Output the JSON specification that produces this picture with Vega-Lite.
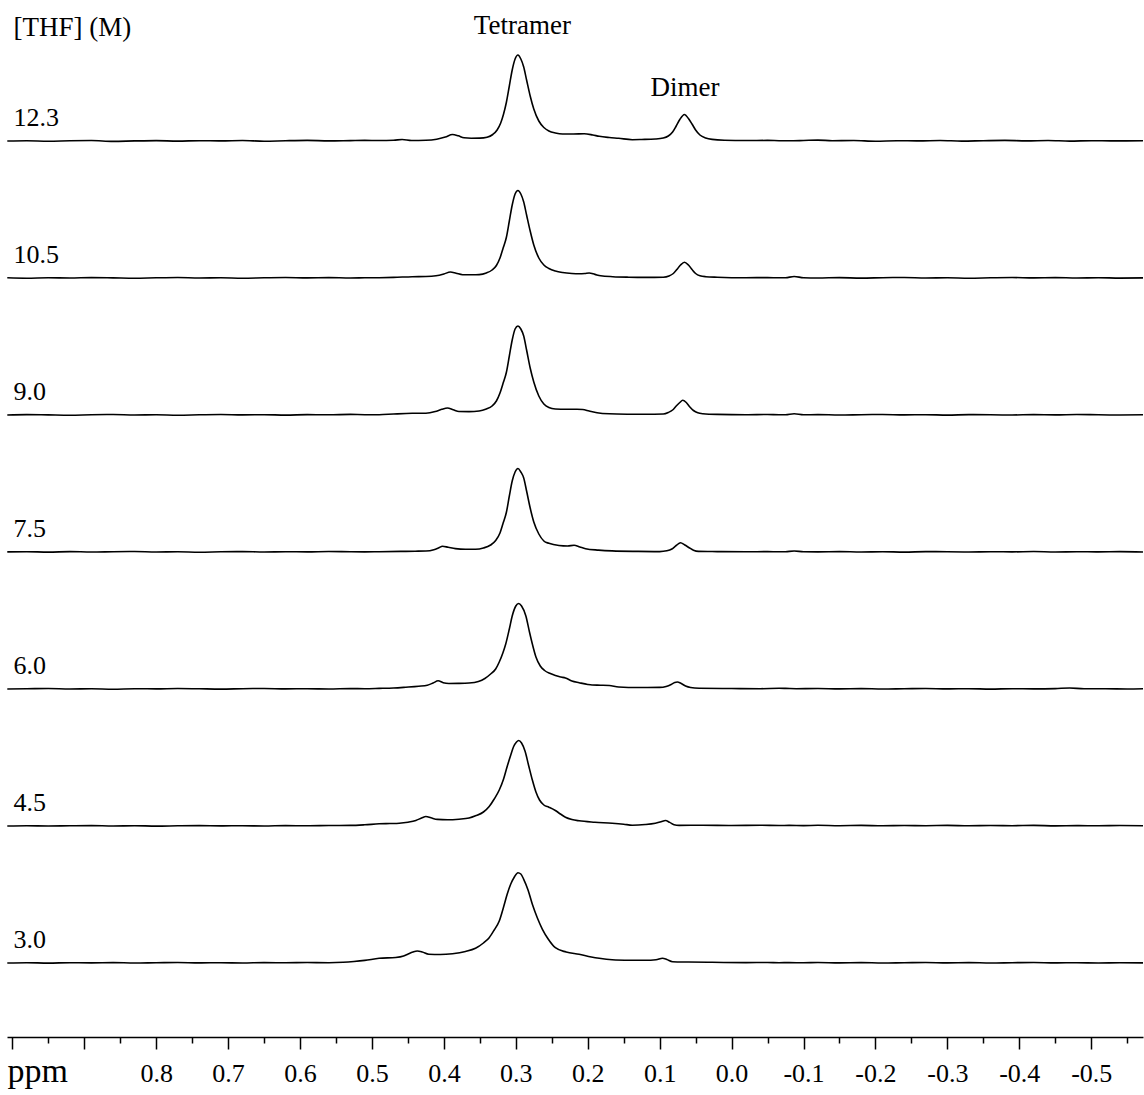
{
  "$schema": "https://vega.github.io/schema/vega-lite/v6.json",
  "background": "white",
  "padding": {"left": 4, "right": 0, "top": 12, "bottom": 5},
  "bounds": "flush",
  "datasets": {
    "spectra": [
      {"thf":"12.3","ppm":1.007,"i":0},{"thf":"12.3","ppm":0.98,"i":0.3},{"thf":"12.3","ppm":0.95,"i":-0.2},{"thf":"12.3","ppm":0.92,"i":0.3},{"thf":"12.3","ppm":0.89,"i":0.5},{"thf":"12.3","ppm":0.86,"i":-0.4},{"thf":"12.3","ppm":0.83,"i":0.1},{"thf":"12.3","ppm":0.8,"i":0.4},{"thf":"12.3","ppm":0.77,"i":-0.1},{"thf":"12.3","ppm":0.74,"i":0.3},{"thf":"12.3","ppm":0.71,"i":0.1},{"thf":"12.3","ppm":0.68,"i":0.5},{"thf":"12.3","ppm":0.65,"i":-0.2},{"thf":"12.3","ppm":0.62,"i":0.3},{"thf":"12.3","ppm":0.59,"i":0.6},{"thf":"12.3","ppm":0.56,"i":0.1},{"thf":"12.3","ppm":0.53,"i":0.4},{"thf":"12.3","ppm":0.51,"i":0.6},
      {"thf":"12.3","ppm":0.49,"i":0.5},{"thf":"12.3","ppm":0.47,"i":0.7},{"thf":"12.3","ppm":0.458,"i":1.5},{"thf":"12.3","ppm":0.445,"i":0.5},{"thf":"12.3","ppm":0.425,"i":0.7},{"thf":"12.3","ppm":0.41,"i":1.8},{"thf":"12.3","ppm":0.398,"i":4},{"thf":"12.3","ppm":0.388,"i":6.5},{"thf":"12.3","ppm":0.38,"i":5.2},{"thf":"12.3","ppm":0.372,"i":3.2},{"thf":"12.3","ppm":0.362,"i":2.8},{"thf":"12.3","ppm":0.35,"i":2.9},{"thf":"12.3","ppm":0.34,"i":3.8},{"thf":"12.3","ppm":0.332,"i":6.5},{"thf":"12.3","ppm":0.326,"i":11},{"thf":"12.3","ppm":0.321,"i":18},{"thf":"12.3","ppm":0.317,"i":27},{"thf":"12.3","ppm":0.313,"i":39},{"thf":"12.3","ppm":0.309,"i":55},{"thf":"12.3","ppm":0.305,"i":71},{"thf":"12.3","ppm":0.301,"i":82},{"thf":"12.3","ppm":0.297,"i":86},{"thf":"12.3","ppm":0.293,"i":82},{"thf":"12.3","ppm":0.289,"i":74},{"thf":"12.3","ppm":0.285,"i":61},{"thf":"12.3","ppm":0.28,"i":45},{"thf":"12.3","ppm":0.275,"i":32},{"thf":"12.3","ppm":0.268,"i":20},{"thf":"12.3","ppm":0.261,"i":13.5},{"thf":"12.3","ppm":0.254,"i":10},{"thf":"12.3","ppm":0.245,"i":8},{"thf":"12.3","ppm":0.235,"i":7},{"thf":"12.3","ppm":0.22,"i":7},{"thf":"12.3","ppm":0.205,"i":7.2},{"thf":"12.3","ppm":0.193,"i":6},{"thf":"12.3","ppm":0.184,"i":4.7},{"thf":"12.3","ppm":0.17,"i":3.5},{"thf":"12.3","ppm":0.157,"i":2.7},{"thf":"12.3","ppm":0.138,"i":1.3},{"thf":"12.3","ppm":0.125,"i":1.5},{"thf":"12.3","ppm":0.106,"i":2},{"thf":"12.3","ppm":0.095,"i":3},{"thf":"12.3","ppm":0.088,"i":5},{"thf":"12.3","ppm":0.082,"i":9},{"thf":"12.3","ppm":0.077,"i":15},{"thf":"12.3","ppm":0.072,"i":21.5},{"thf":"12.3","ppm":0.0655,"i":26.5},{"thf":"12.3","ppm":0.06,"i":22.5},{"thf":"12.3","ppm":0.055,"i":17},{"thf":"12.3","ppm":0.05,"i":11},{"thf":"12.3","ppm":0.044,"i":6},{"thf":"12.3","ppm":0.036,"i":3},{"thf":"12.3","ppm":0.027,"i":1.6},{"thf":"12.3","ppm":0.01,"i":0.8},{"thf":"12.3","ppm":-0.02,"i":0.5},{"thf":"12.3","ppm":-0.05,"i":0.6},{"thf":"12.3","ppm":-0.066,"i":0.3},
      {"thf":"12.3","ppm":-0.08,"i":0.2},{"thf":"12.3","ppm":-0.1,"i":0.5},{"thf":"12.3","ppm":-0.12,"i":0.9},{"thf":"12.3","ppm":-0.14,"i":0.3},{"thf":"12.3","ppm":-0.17,"i":0.5},{"thf":"12.3","ppm":-0.2,"i":-0.2},{"thf":"12.3","ppm":-0.23,"i":0.3},{"thf":"12.3","ppm":-0.26,"i":0.1},{"thf":"12.3","ppm":-0.29,"i":0.5},{"thf":"12.3","ppm":-0.32,"i":-0.1},{"thf":"12.3","ppm":-0.35,"i":0.3},{"thf":"12.3","ppm":-0.38,"i":0.6},{"thf":"12.3","ppm":-0.41,"i":0.1},{"thf":"12.3","ppm":-0.44,"i":0.5},{"thf":"12.3","ppm":-0.47,"i":-0.1},{"thf":"12.3","ppm":-0.5,"i":0.3},{"thf":"12.3","ppm":-0.53,"i":0.1},{"thf":"12.3","ppm":-0.572,"i":0.2},

      {"thf":"10.5","ppm":1.007,"i":0.2},{"thf":"10.5","ppm":0.98,"i":-0.2},{"thf":"10.5","ppm":0.95,"i":0.3},{"thf":"10.5","ppm":0.92,"i":0},{"thf":"10.5","ppm":0.89,"i":0.4},{"thf":"10.5","ppm":0.86,"i":0.1},{"thf":"10.5","ppm":0.83,"i":-0.3},{"thf":"10.5","ppm":0.8,"i":0.2},{"thf":"10.5","ppm":0.77,"i":0.5},{"thf":"10.5","ppm":0.74,"i":0},{"thf":"10.5","ppm":0.71,"i":0.3},{"thf":"10.5","ppm":0.68,"i":-0.2},{"thf":"10.5","ppm":0.65,"i":0.2},{"thf":"10.5","ppm":0.62,"i":0.5},{"thf":"10.5","ppm":0.59,"i":0.1},{"thf":"10.5","ppm":0.56,"i":0.4},{"thf":"10.5","ppm":0.53,"i":0},{"thf":"10.5","ppm":0.51,"i":0.2},
      {"thf":"10.5","ppm":0.49,"i":0.3},{"thf":"10.5","ppm":0.47,"i":0.6},{"thf":"10.5","ppm":0.444,"i":1.3},{"thf":"10.5","ppm":0.425,"i":1.5},{"thf":"10.5","ppm":0.411,"i":2.2},{"thf":"10.5","ppm":0.4,"i":4},{"thf":"10.5","ppm":0.391,"i":6},{"thf":"10.5","ppm":0.383,"i":4.8},{"thf":"10.5","ppm":0.374,"i":3.3},{"thf":"10.5","ppm":0.36,"i":3.2},{"thf":"10.5","ppm":0.351,"i":3.4},{"thf":"10.5","ppm":0.341,"i":5},{"thf":"10.5","ppm":0.333,"i":8},{"thf":"10.5","ppm":0.327,"i":12.5},{"thf":"10.5","ppm":0.322,"i":20},{"thf":"10.5","ppm":0.318,"i":29},{"thf":"10.5","ppm":0.313,"i":41},{"thf":"10.5","ppm":0.309,"i":57},{"thf":"10.5","ppm":0.305,"i":73},{"thf":"10.5","ppm":0.301,"i":84},{"thf":"10.5","ppm":0.297,"i":87.5},{"thf":"10.5","ppm":0.293,"i":84},{"thf":"10.5","ppm":0.289,"i":76},{"thf":"10.5","ppm":0.285,"i":63},{"thf":"10.5","ppm":0.28,"i":47},{"thf":"10.5","ppm":0.275,"i":33},{"thf":"10.5","ppm":0.268,"i":20},{"thf":"10.5","ppm":0.261,"i":13},{"thf":"10.5","ppm":0.254,"i":9.5},{"thf":"10.5","ppm":0.245,"i":7},{"thf":"10.5","ppm":0.235,"i":5.5},{"thf":"10.5","ppm":0.222,"i":4.5},{"thf":"10.5","ppm":0.212,"i":4.2},{"thf":"10.5","ppm":0.204,"i":4.5},{"thf":"10.5","ppm":0.198,"i":5},{"thf":"10.5","ppm":0.19,"i":3.6},{"thf":"10.5","ppm":0.182,"i":2.2},{"thf":"10.5","ppm":0.165,"i":1.3},{"thf":"10.5","ppm":0.143,"i":0.8},{"thf":"10.5","ppm":0.12,"i":0.6},{"thf":"10.5","ppm":0.095,"i":0.8},{"thf":"10.5","ppm":0.087,"i":2},{"thf":"10.5","ppm":0.081,"i":4.5},{"thf":"10.5","ppm":0.076,"i":8.5},{"thf":"10.5","ppm":0.071,"i":13},{"thf":"10.5","ppm":0.0655,"i":15.8},{"thf":"10.5","ppm":0.06,"i":13},{"thf":"10.5","ppm":0.055,"i":8.5},{"thf":"10.5","ppm":0.05,"i":4.5},{"thf":"10.5","ppm":0.044,"i":2.2},{"thf":"10.5","ppm":0.036,"i":1.3},{"thf":"10.5","ppm":0.02,"i":0.8},{"thf":"10.5","ppm":-0.02,"i":0.3},{"thf":"10.5","ppm":-0.05,"i":0.4},{"thf":"10.5","ppm":-0.066,"i":0.2},
      {"thf":"10.5","ppm":-0.075,"i":0.3},{"thf":"10.5","ppm":-0.087,"i":1.5},{"thf":"10.5","ppm":-0.1,"i":0.3},{"thf":"10.5","ppm":-0.12,"i":0},{"thf":"10.5","ppm":-0.15,"i":0.4},{"thf":"10.5","ppm":-0.18,"i":-0.1},{"thf":"10.5","ppm":-0.21,"i":0.3},{"thf":"10.5","ppm":-0.24,"i":0.5},{"thf":"10.5","ppm":-0.27,"i":0},{"thf":"10.5","ppm":-0.3,"i":0.3},{"thf":"10.5","ppm":-0.33,"i":-0.2},{"thf":"10.5","ppm":-0.36,"i":0.2},{"thf":"10.5","ppm":-0.39,"i":0.5},{"thf":"10.5","ppm":-0.42,"i":0.1},{"thf":"10.5","ppm":-0.45,"i":0.4},{"thf":"10.5","ppm":-0.48,"i":0},{"thf":"10.5","ppm":-0.51,"i":0.3},{"thf":"10.5","ppm":-0.54,"i":-0.1},{"thf":"10.5","ppm":-0.572,"i":0.1},

      {"thf":"9.0","ppm":1.007,"i":0},{"thf":"9.0","ppm":0.98,"i":0.4},{"thf":"9.0","ppm":0.95,"i":0.1},{"thf":"9.0","ppm":0.92,"i":-0.2},{"thf":"9.0","ppm":0.89,"i":0.3},{"thf":"9.0","ppm":0.86,"i":0.5},{"thf":"9.0","ppm":0.83,"i":0},{"thf":"9.0","ppm":0.8,"i":0.3},{"thf":"9.0","ppm":0.77,"i":-0.2},{"thf":"9.0","ppm":0.74,"i":0.2},{"thf":"9.0","ppm":0.71,"i":0.5},{"thf":"9.0","ppm":0.68,"i":0.1},{"thf":"9.0","ppm":0.65,"i":0.3},{"thf":"9.0","ppm":0.62,"i":-0.1},{"thf":"9.0","ppm":0.59,"i":0.4},{"thf":"9.0","ppm":0.56,"i":0.2},{"thf":"9.0","ppm":0.53,"i":0.6},{"thf":"9.0","ppm":0.51,"i":0.3},
      {"thf":"9.0","ppm":0.49,"i":0.3},{"thf":"9.0","ppm":0.47,"i":1},{"thf":"9.0","ppm":0.444,"i":1.7},{"thf":"9.0","ppm":0.425,"i":1.8},{"thf":"9.0","ppm":0.412,"i":3.5},{"thf":"9.0","ppm":0.403,"i":5.7},{"thf":"9.0","ppm":0.395,"i":7},{"thf":"9.0","ppm":0.387,"i":5.2},{"thf":"9.0","ppm":0.379,"i":3.5},{"thf":"9.0","ppm":0.365,"i":3.4},{"thf":"9.0","ppm":0.351,"i":4},{"thf":"9.0","ppm":0.341,"i":6},{"thf":"9.0","ppm":0.333,"i":9},{"thf":"9.0","ppm":0.327,"i":14},{"thf":"9.0","ppm":0.322,"i":22},{"thf":"9.0","ppm":0.318,"i":31},{"thf":"9.0","ppm":0.313,"i":43},{"thf":"9.0","ppm":0.309,"i":59},{"thf":"9.0","ppm":0.305,"i":75},{"thf":"9.0","ppm":0.301,"i":86},{"thf":"9.0","ppm":0.297,"i":89},{"thf":"9.0","ppm":0.293,"i":86},{"thf":"9.0","ppm":0.289,"i":79},{"thf":"9.0","ppm":0.285,"i":65},{"thf":"9.0","ppm":0.28,"i":47},{"thf":"9.0","ppm":0.275,"i":33},{"thf":"9.0","ppm":0.268,"i":19},{"thf":"9.0","ppm":0.261,"i":11},{"thf":"9.0","ppm":0.254,"i":7.5},{"thf":"9.0","ppm":0.245,"i":6},{"thf":"9.0","ppm":0.23,"i":5.7},{"thf":"9.0","ppm":0.215,"i":5.7},{"thf":"9.0","ppm":0.207,"i":5.5},{"thf":"9.0","ppm":0.198,"i":4},{"thf":"9.0","ppm":0.187,"i":2.3},{"thf":"9.0","ppm":0.17,"i":1.2},{"thf":"9.0","ppm":0.145,"i":0.8},{"thf":"9.0","ppm":0.12,"i":0.7},{"thf":"9.0","ppm":0.095,"i":1},{"thf":"9.0","ppm":0.088,"i":2.5},{"thf":"9.0","ppm":0.082,"i":5},{"thf":"9.0","ppm":0.077,"i":9},{"thf":"9.0","ppm":0.072,"i":12.5},{"thf":"9.0","ppm":0.068,"i":14.7},{"thf":"9.0","ppm":0.063,"i":12.5},{"thf":"9.0","ppm":0.058,"i":8},{"thf":"9.0","ppm":0.053,"i":4.5},{"thf":"9.0","ppm":0.047,"i":2.2},{"thf":"9.0","ppm":0.04,"i":1.3},{"thf":"9.0","ppm":0.02,"i":0.6},{"thf":"9.0","ppm":-0.02,"i":0.3},{"thf":"9.0","ppm":-0.05,"i":0.5},{"thf":"9.0","ppm":-0.066,"i":0.2},
      {"thf":"9.0","ppm":-0.075,"i":0.2},{"thf":"9.0","ppm":-0.087,"i":1.2},{"thf":"9.0","ppm":-0.1,"i":0.2},{"thf":"9.0","ppm":-0.12,"i":0.4},{"thf":"9.0","ppm":-0.15,"i":0},{"thf":"9.0","ppm":-0.18,"i":0.3},{"thf":"9.0","ppm":-0.21,"i":0.5},{"thf":"9.0","ppm":-0.24,"i":0.1},{"thf":"9.0","ppm":-0.27,"i":0.3},{"thf":"9.0","ppm":-0.3,"i":-0.1},{"thf":"9.0","ppm":-0.33,"i":0.4},{"thf":"9.0","ppm":-0.36,"i":0.2},{"thf":"9.0","ppm":-0.39,"i":0},{"thf":"9.0","ppm":-0.42,"i":0.4},{"thf":"9.0","ppm":-0.45,"i":0.1},{"thf":"9.0","ppm":-0.48,"i":0.5},{"thf":"9.0","ppm":-0.51,"i":0.2},{"thf":"9.0","ppm":-0.54,"i":0},{"thf":"9.0","ppm":-0.572,"i":0.2},

      {"thf":"7.5","ppm":1.007,"i":0.1},{"thf":"7.5","ppm":0.98,"i":0.3},{"thf":"7.5","ppm":0.95,"i":-0.1},{"thf":"7.5","ppm":0.92,"i":0.4},{"thf":"7.5","ppm":0.89,"i":0},{"thf":"7.5","ppm":0.86,"i":0.3},{"thf":"7.5","ppm":0.83,"i":0.5},{"thf":"7.5","ppm":0.8,"i":0},{"thf":"7.5","ppm":0.77,"i":0.3},{"thf":"7.5","ppm":0.74,"i":-0.2},{"thf":"7.5","ppm":0.71,"i":0.2},{"thf":"7.5","ppm":0.68,"i":0.4},{"thf":"7.5","ppm":0.65,"i":0},{"thf":"7.5","ppm":0.62,"i":0.3},{"thf":"7.5","ppm":0.59,"i":0.1},{"thf":"7.5","ppm":0.56,"i":0.5},{"thf":"7.5","ppm":0.53,"i":0.2},{"thf":"7.5","ppm":0.51,"i":0.1},
      {"thf":"7.5","ppm":0.49,"i":0.3},{"thf":"7.5","ppm":0.46,"i":0.6},{"thf":"7.5","ppm":0.44,"i":0.8},{"thf":"7.5","ppm":0.425,"i":1},{"thf":"7.5","ppm":0.414,"i":2.3},{"thf":"7.5","ppm":0.407,"i":4.2},{"thf":"7.5","ppm":0.402,"i":5.7},{"thf":"7.5","ppm":0.394,"i":4.7},{"thf":"7.5","ppm":0.384,"i":3.4},{"thf":"7.5","ppm":0.37,"i":2.8},{"thf":"7.5","ppm":0.356,"i":2.8},{"thf":"7.5","ppm":0.345,"i":4},{"thf":"7.5","ppm":0.335,"i":7},{"thf":"7.5","ppm":0.328,"i":11.5},{"thf":"7.5","ppm":0.322,"i":19},{"thf":"7.5","ppm":0.318,"i":28},{"thf":"7.5","ppm":0.313,"i":40},{"thf":"7.5","ppm":0.309,"i":56},{"thf":"7.5","ppm":0.305,"i":71},{"thf":"7.5","ppm":0.301,"i":80},{"thf":"7.5","ppm":0.297,"i":83.5},{"thf":"7.5","ppm":0.293,"i":80},{"thf":"7.5","ppm":0.289,"i":74},{"thf":"7.5","ppm":0.285,"i":61},{"thf":"7.5","ppm":0.28,"i":44},{"thf":"7.5","ppm":0.275,"i":30},{"thf":"7.5","ppm":0.268,"i":18},{"thf":"7.5","ppm":0.261,"i":11},{"thf":"7.5","ppm":0.254,"i":8.7},{"thf":"7.5","ppm":0.24,"i":6.5},{"thf":"7.5","ppm":0.228,"i":6},{"thf":"7.5","ppm":0.219,"i":6.7},{"thf":"7.5","ppm":0.211,"i":5},{"thf":"7.5","ppm":0.203,"i":3.3},{"thf":"7.5","ppm":0.185,"i":1.9},{"thf":"7.5","ppm":0.166,"i":1.1},{"thf":"7.5","ppm":0.13,"i":0.6},{"thf":"7.5","ppm":0.1,"i":0.4},{"thf":"7.5","ppm":0.09,"i":1.2},{"thf":"7.5","ppm":0.083,"i":3},{"thf":"7.5","ppm":0.077,"i":6.5},{"thf":"7.5","ppm":0.071,"i":9.3},{"thf":"7.5","ppm":0.065,"i":7},{"thf":"7.5","ppm":0.059,"i":4.3},{"thf":"7.5","ppm":0.053,"i":1.8},{"thf":"7.5","ppm":0.046,"i":0.6},{"thf":"7.5","ppm":0.02,"i":0.4},{"thf":"7.5","ppm":-0.02,"i":0.2},{"thf":"7.5","ppm":-0.05,"i":0.4},{"thf":"7.5","ppm":-0.066,"i":0.2},
      {"thf":"7.5","ppm":-0.075,"i":0.3},{"thf":"7.5","ppm":-0.087,"i":1},{"thf":"7.5","ppm":-0.1,"i":0.2},{"thf":"7.5","ppm":-0.12,"i":0.1},{"thf":"7.5","ppm":-0.15,"i":0.4},{"thf":"7.5","ppm":-0.18,"i":0},{"thf":"7.5","ppm":-0.21,"i":0.3},{"thf":"7.5","ppm":-0.24,"i":-0.1},{"thf":"7.5","ppm":-0.27,"i":0.4},{"thf":"7.5","ppm":-0.3,"i":0.2},{"thf":"7.5","ppm":-0.33,"i":0},{"thf":"7.5","ppm":-0.36,"i":0.3},{"thf":"7.5","ppm":-0.39,"i":0.1},{"thf":"7.5","ppm":-0.42,"i":0.5},{"thf":"7.5","ppm":-0.45,"i":0},{"thf":"7.5","ppm":-0.48,"i":0.3},{"thf":"7.5","ppm":-0.51,"i":0.1},{"thf":"7.5","ppm":-0.54,"i":0.4},{"thf":"7.5","ppm":-0.572,"i":0},

      {"thf":"6.0","ppm":1.007,"i":0},{"thf":"6.0","ppm":0.98,"i":0.2},{"thf":"6.0","ppm":0.95,"i":0.5},{"thf":"6.0","ppm":0.92,"i":0},{"thf":"6.0","ppm":0.89,"i":0.3},{"thf":"6.0","ppm":0.86,"i":-0.2},{"thf":"6.0","ppm":0.83,"i":0.3},{"thf":"6.0","ppm":0.8,"i":0.1},{"thf":"6.0","ppm":0.77,"i":0.5},{"thf":"6.0","ppm":0.74,"i":0.2},{"thf":"6.0","ppm":0.71,"i":-0.1},{"thf":"6.0","ppm":0.68,"i":0.3},{"thf":"6.0","ppm":0.65,"i":0.5},{"thf":"6.0","ppm":0.62,"i":0.1},{"thf":"6.0","ppm":0.59,"i":0.3},{"thf":"6.0","ppm":0.56,"i":0},{"thf":"6.0","ppm":0.53,"i":0.4},{"thf":"6.0","ppm":0.51,"i":0.3},
      {"thf":"6.0","ppm":0.49,"i":0.6},{"thf":"6.0","ppm":0.47,"i":1},{"thf":"6.0","ppm":0.453,"i":1.8},{"thf":"6.0","ppm":0.435,"i":2.8},{"thf":"6.0","ppm":0.423,"i":3.8},{"thf":"6.0","ppm":0.415,"i":6},{"thf":"6.0","ppm":0.408,"i":8.2},{"thf":"6.0","ppm":0.401,"i":6.3},{"thf":"6.0","ppm":0.393,"i":5.5},{"thf":"6.0","ppm":0.38,"i":5.6},{"thf":"6.0","ppm":0.365,"i":6},{"thf":"6.0","ppm":0.352,"i":7.5},{"thf":"6.0","ppm":0.343,"i":10.5},{"thf":"6.0","ppm":0.335,"i":15},{"thf":"6.0","ppm":0.328,"i":20},{"thf":"6.0","ppm":0.323,"i":27},{"thf":"6.0","ppm":0.318,"i":36},{"thf":"6.0","ppm":0.314,"i":45},{"thf":"6.0","ppm":0.309,"i":60},{"thf":"6.0","ppm":0.305,"i":73},{"thf":"6.0","ppm":0.3,"i":83},{"thf":"6.0","ppm":0.296,"i":85.5},{"thf":"6.0","ppm":0.292,"i":83},{"thf":"6.0","ppm":0.286,"i":73},{"thf":"6.0","ppm":0.281,"i":57},{"thf":"6.0","ppm":0.277,"i":45},{"thf":"6.0","ppm":0.272,"i":32},{"thf":"6.0","ppm":0.266,"i":23},{"thf":"6.0","ppm":0.26,"i":18.5},{"thf":"6.0","ppm":0.252,"i":15.5},{"thf":"6.0","ppm":0.245,"i":13.5},{"thf":"6.0","ppm":0.237,"i":12},{"thf":"6.0","ppm":0.231,"i":11},{"thf":"6.0","ppm":0.222,"i":8},{"thf":"6.0","ppm":0.212,"i":6.3},{"thf":"6.0","ppm":0.2,"i":4.5},{"thf":"6.0","ppm":0.194,"i":4},{"thf":"6.0","ppm":0.182,"i":3.8},{"thf":"6.0","ppm":0.17,"i":3.5},{"thf":"6.0","ppm":0.157,"i":2},{"thf":"6.0","ppm":0.13,"i":1.5},{"thf":"6.0","ppm":0.1,"i":1.6},{"thf":"6.0","ppm":0.091,"i":2.5},{"thf":"6.0","ppm":0.084,"i":4.5},{"thf":"6.0","ppm":0.079,"i":6.5},{"thf":"6.0","ppm":0.0755,"i":7},{"thf":"6.0","ppm":0.07,"i":5.5},{"thf":"6.0","ppm":0.064,"i":3},{"thf":"6.0","ppm":0.057,"i":1.5},{"thf":"6.0","ppm":0.045,"i":0.8},{"thf":"6.0","ppm":0,"i":0.5},{"thf":"6.0","ppm":-0.04,"i":0.3},{"thf":"6.0","ppm":-0.066,"i":0.7},
      {"thf":"6.0","ppm":-0.075,"i":0.6},{"thf":"6.0","ppm":-0.09,"i":0.3},{"thf":"6.0","ppm":-0.12,"i":0.5},{"thf":"6.0","ppm":-0.15,"i":0.1},{"thf":"6.0","ppm":-0.18,"i":0.4},{"thf":"6.0","ppm":-0.21,"i":0},{"thf":"6.0","ppm":-0.24,"i":0.3},{"thf":"6.0","ppm":-0.27,"i":0.5},{"thf":"6.0","ppm":-0.3,"i":0.1},{"thf":"6.0","ppm":-0.33,"i":0.3},{"thf":"6.0","ppm":-0.36,"i":-0.1},{"thf":"6.0","ppm":-0.39,"i":0.3},{"thf":"6.0","ppm":-0.42,"i":0.1},{"thf":"6.0","ppm":-0.45,"i":0.4},{"thf":"6.0","ppm":-0.47,"i":1},{"thf":"6.0","ppm":-0.49,"i":0.2},{"thf":"6.0","ppm":-0.52,"i":0.3},{"thf":"6.0","ppm":-0.55,"i":0},{"thf":"6.0","ppm":-0.572,"i":0.2},

      {"thf":"4.5","ppm":1.007,"i":0},{"thf":"4.5","ppm":0.98,"i":0.3},{"thf":"4.5","ppm":0.95,"i":0},{"thf":"4.5","ppm":0.92,"i":0.2},{"thf":"4.5","ppm":0.89,"i":0.4},{"thf":"4.5","ppm":0.86,"i":0},{"thf":"4.5","ppm":0.83,"i":0.3},{"thf":"4.5","ppm":0.8,"i":-0.1},{"thf":"4.5","ppm":0.77,"i":0.2},{"thf":"4.5","ppm":0.74,"i":0.4},{"thf":"4.5","ppm":0.71,"i":0.1},{"thf":"4.5","ppm":0.68,"i":0.3},{"thf":"4.5","ppm":0.65,"i":0},{"thf":"4.5","ppm":0.62,"i":0.4},{"thf":"4.5","ppm":0.59,"i":0.2},{"thf":"4.5","ppm":0.56,"i":0.5},{"thf":"4.5","ppm":0.53,"i":0.6},{"thf":"4.5","ppm":0.51,"i":1.2},
      {"thf":"4.5","ppm":0.49,"i":2.2},{"thf":"4.5","ppm":0.475,"i":2.5},{"thf":"4.5","ppm":0.462,"i":2.8},{"thf":"4.5","ppm":0.45,"i":3.8},{"thf":"4.5","ppm":0.439,"i":5.5},{"thf":"4.5","ppm":0.431,"i":8},{"thf":"4.5","ppm":0.425,"i":9.5},{"thf":"4.5","ppm":0.418,"i":8.2},{"thf":"4.5","ppm":0.409,"i":6.6},{"thf":"4.5","ppm":0.395,"i":6.2},{"thf":"4.5","ppm":0.379,"i":6.8},{"thf":"4.5","ppm":0.365,"i":8},{"thf":"4.5","ppm":0.356,"i":10.2},{"thf":"4.5","ppm":0.345,"i":14},{"thf":"4.5","ppm":0.337,"i":19.5},{"thf":"4.5","ppm":0.33,"i":27},{"thf":"4.5","ppm":0.323,"i":36},{"thf":"4.5","ppm":0.317,"i":47},{"thf":"4.5","ppm":0.312,"i":59.5},{"thf":"4.5","ppm":0.307,"i":71},{"thf":"4.5","ppm":0.303,"i":79.5},{"thf":"4.5","ppm":0.299,"i":84},{"thf":"4.5","ppm":0.296,"i":85.5},{"thf":"4.5","ppm":0.292,"i":83},{"thf":"4.5","ppm":0.287,"i":74.5},{"thf":"4.5","ppm":0.282,"i":60},{"thf":"4.5","ppm":0.277,"i":46},{"thf":"4.5","ppm":0.272,"i":34},{"thf":"4.5","ppm":0.267,"i":26},{"thf":"4.5","ppm":0.261,"i":21},{"thf":"4.5","ppm":0.254,"i":18.8},{"thf":"4.5","ppm":0.245,"i":15.5},{"thf":"4.5","ppm":0.238,"i":12},{"thf":"4.5","ppm":0.231,"i":8.8},{"thf":"4.5","ppm":0.222,"i":6.5},{"thf":"4.5","ppm":0.212,"i":5.2},{"thf":"4.5","ppm":0.19,"i":3.8},{"thf":"4.5","ppm":0.166,"i":2.8},{"thf":"4.5","ppm":0.15,"i":1.8},{"thf":"4.5","ppm":0.138,"i":0.8},{"thf":"4.5","ppm":0.12,"i":1.5},{"thf":"4.5","ppm":0.106,"i":2.8},{"thf":"4.5","ppm":0.098,"i":4.2},{"thf":"4.5","ppm":0.092,"i":5.5},{"thf":"4.5","ppm":0.086,"i":3.6},{"thf":"4.5","ppm":0.08,"i":1.2},{"thf":"4.5","ppm":0.073,"i":0.6},{"thf":"4.5","ppm":0.04,"i":0.8},{"thf":"4.5","ppm":0,"i":0.5},{"thf":"4.5","ppm":-0.04,"i":0.7},{"thf":"4.5","ppm":-0.066,"i":0.5},
      {"thf":"4.5","ppm":-0.08,"i":0.6},{"thf":"4.5","ppm":-0.1,"i":0.4},{"thf":"4.5","ppm":-0.12,"i":0.7},{"thf":"4.5","ppm":-0.15,"i":0.3},{"thf":"4.5","ppm":-0.18,"i":0.6},{"thf":"4.5","ppm":-0.21,"i":0.2},{"thf":"4.5","ppm":-0.24,"i":0.5},{"thf":"4.5","ppm":-0.27,"i":0.3},{"thf":"4.5","ppm":-0.3,"i":0.6},{"thf":"4.5","ppm":-0.33,"i":0.2},{"thf":"4.5","ppm":-0.36,"i":0.5},{"thf":"4.5","ppm":-0.39,"i":0.3},{"thf":"4.5","ppm":-0.42,"i":0.6},{"thf":"4.5","ppm":-0.45,"i":0.1},{"thf":"4.5","ppm":-0.48,"i":0.4},{"thf":"4.5","ppm":-0.51,"i":0.2},{"thf":"4.5","ppm":-0.54,"i":0.5},{"thf":"4.5","ppm":-0.572,"i":0.3},

      {"thf":"3.0","ppm":1.007,"i":0},{"thf":"3.0","ppm":0.98,"i":0.3},{"thf":"3.0","ppm":0.95,"i":-0.1},{"thf":"3.0","ppm":0.92,"i":0.3},{"thf":"3.0","ppm":0.89,"i":0.1},{"thf":"3.0","ppm":0.86,"i":0.4},{"thf":"3.0","ppm":0.83,"i":0},{"thf":"3.0","ppm":0.8,"i":0.3},{"thf":"3.0","ppm":0.77,"i":0.5},{"thf":"3.0","ppm":0.74,"i":0.1},{"thf":"3.0","ppm":0.71,"i":0.3},{"thf":"3.0","ppm":0.68,"i":0},{"thf":"3.0","ppm":0.65,"i":0.4},{"thf":"3.0","ppm":0.62,"i":0.2},{"thf":"3.0","ppm":0.59,"i":0.5},
      {"thf":"3.0","ppm":0.56,"i":0.3},{"thf":"3.0","ppm":0.54,"i":0.7},{"thf":"3.0","ppm":0.525,"i":1.5},{"thf":"3.0","ppm":0.51,"i":2.6},{"thf":"3.0","ppm":0.49,"i":4.7},{"thf":"3.0","ppm":0.467,"i":5.5},{"thf":"3.0","ppm":0.456,"i":7},{"thf":"3.0","ppm":0.449,"i":9.3},{"thf":"3.0","ppm":0.443,"i":11},{"thf":"3.0","ppm":0.437,"i":12},{"thf":"3.0","ppm":0.43,"i":11},{"thf":"3.0","ppm":0.421,"i":8.7},{"thf":"3.0","ppm":0.405,"i":8.5},{"thf":"3.0","ppm":0.388,"i":9.3},{"thf":"3.0","ppm":0.37,"i":11.5},{"thf":"3.0","ppm":0.356,"i":14.7},{"thf":"3.0","ppm":0.345,"i":20},{"thf":"3.0","ppm":0.337,"i":25.3},{"thf":"3.0","ppm":0.33,"i":33},{"thf":"3.0","ppm":0.323,"i":42},{"thf":"3.0","ppm":0.317,"i":56},{"thf":"3.0","ppm":0.312,"i":68.7},{"thf":"3.0","ppm":0.307,"i":79},{"thf":"3.0","ppm":0.302,"i":86},{"thf":"3.0","ppm":0.297,"i":90.3},{"thf":"3.0","ppm":0.293,"i":89},{"thf":"3.0","ppm":0.289,"i":83.7},{"thf":"3.0","ppm":0.283,"i":73},{"thf":"3.0","ppm":0.277,"i":58.7},{"thf":"3.0","ppm":0.27,"i":45},{"thf":"3.0","ppm":0.263,"i":33.7},{"thf":"3.0","ppm":0.255,"i":24},{"thf":"3.0","ppm":0.245,"i":15.3},{"thf":"3.0","ppm":0.23,"i":11},{"thf":"3.0","ppm":0.212,"i":8.7},{"thf":"3.0","ppm":0.195,"i":6},{"thf":"3.0","ppm":0.184,"i":4.7},{"thf":"3.0","ppm":0.166,"i":3.3},{"thf":"3.0","ppm":0.14,"i":2.8},{"thf":"3.0","ppm":0.12,"i":2.7},{"thf":"3.0","ppm":0.105,"i":3.2},{"thf":"3.0","ppm":0.096,"i":4.7},{"thf":"3.0","ppm":0.09,"i":3.5},{"thf":"3.0","ppm":0.082,"i":1.3},{"thf":"3.0","ppm":0.06,"i":1},{"thf":"3.0","ppm":0.027,"i":0.7},{"thf":"3.0","ppm":-0.02,"i":0.4},{"thf":"3.0","ppm":-0.05,"i":0.5},{"thf":"3.0","ppm":-0.066,"i":0.3},
      {"thf":"3.0","ppm":-0.08,"i":0.4},{"thf":"3.0","ppm":-0.1,"i":0.2},{"thf":"3.0","ppm":-0.12,"i":0.5},{"thf":"3.0","ppm":-0.15,"i":0.1},{"thf":"3.0","ppm":-0.18,"i":0.4},{"thf":"3.0","ppm":-0.21,"i":0},{"thf":"3.0","ppm":-0.24,"i":0.3},{"thf":"3.0","ppm":-0.27,"i":0.5},{"thf":"3.0","ppm":-0.3,"i":0.1},{"thf":"3.0","ppm":-0.33,"i":0.4},{"thf":"3.0","ppm":-0.36,"i":0},{"thf":"3.0","ppm":-0.39,"i":0.3},{"thf":"3.0","ppm":-0.42,"i":0.5},{"thf":"3.0","ppm":-0.45,"i":0.1},{"thf":"3.0","ppm":-0.48,"i":0.3},{"thf":"3.0","ppm":-0.51,"i":0},{"thf":"3.0","ppm":-0.54,"i":0.3},{"thf":"3.0","ppm":-0.572,"i":0.1}
    ]
  },
  "data": {"name": "spectra"},
  "facet": {
    "row": {
      "field": "thf",
      "type": "nominal",
      "sort": ["12.3", "10.5", "9.0", "7.5", "6.0", "4.5", "3.0"],
      "title": null,
      "header": {"labels": false, "title": null, "labelPadding": 0, "titlePadding": 0}
    }
  },
  "spacing": 0,
  "spec": {
    "width": 1136,
    "height": 137,
    "layer": [
      {
        "mark": {"type": "line", "interpolate": "monotone", "color": "black", "strokeWidth": 1.6},
        "encoding": {
          "x": {
            "field": "ppm",
            "type": "quantitative",
            "scale": {"domain": [-0.572, 1.0074], "reverse": true, "nice": false, "zero": false},
            "axis": {
              "values": [1.0, 0.95, 0.9, 0.85, 0.8, 0.75, 0.7, 0.65, 0.6, 0.55, 0.5, 0.45, 0.4, 0.35, 0.3, 0.25, 0.2, 0.15, 0.1, 0.05, 0.0, -0.05, -0.1, -0.15, -0.2, -0.25, -0.3, -0.35, -0.4, -0.45, -0.5, -0.55],
              "tickCount": 100,
              "title": "ppm",
              "titleFont": "Liberation Serif",
              "titleFontSize": 34,
              "titleFontWeight": "normal",
              "titleColor": "black",
              "titleX": 0,
              "titleY": 44,
              "titleAlign": "left",
              "titleBaseline": "alphabetic",
              "titleAngle": 0,
              "labelFont": "Liberation Serif",
              "labelFontSize": 26,
              "labelColor": "black",
              "labelBaseline": "alphabetic",
              "labelPadding": 32,
              "labelOverlap": false,
              "labelFlush": false,
              "labelBound": false,
              "labelExpr": "(abs(datum.value * 10 - round(datum.value * 10)) < 0.01 && datum.value < 0.85) ? ((datum.value < -0.01 ? '-' : '') + format(abs(datum.value), '.1f')) : ''",
              "tickSize": 12,
              "tickDash": {"condition": {"test": "abs(datum.value * 10 - round(datum.value * 10)) < 0.01", "value": [12, 0]}, "value": [6, 30]},
              "tickColor": "black",
              "tickWidth": 1.5,
              "domainColor": "black",
              "domainWidth": 1.5,
              "grid": false
            }
          },
          "y": {
            "field": "i",
            "type": "quantitative",
            "scale": {"domain": [-74, 63], "nice": false, "zero": false},
            "axis": null
          }
        }
      },
      {
        "transform": [{"filter": "datum.ppm > 1"}],
        "mark": {"type": "text", "align": "left", "baseline": "alphabetic", "font": "Liberation Serif", "fontSize": 26, "color": "black"},
        "encoding": {
          "x": {"datum": 0.9985, "type": "quantitative"},
          "y": {"datum": 15, "type": "quantitative"},
          "text": {"field": "thf"}
        }
      },
      {
        "transform": [{"filter": "datum.ppm > 1 && datum.thf == '12.3'"}],
        "mark": {"type": "text", "align": "left", "baseline": "alphabetic", "font": "Liberation Serif", "fontSize": 27, "color": "black"},
        "encoding": {
          "x": {"datum": 0.9985, "type": "quantitative"},
          "y": {"datum": 105, "type": "quantitative"},
          "text": {"value": "[THF] (M)"}
        }
      },
      {
        "transform": [{"filter": "datum.ppm > 1 && datum.thf == '12.3'"}],
        "mark": {"type": "text", "align": "center", "baseline": "alphabetic", "font": "Liberation Serif", "fontSize": 27, "color": "black"},
        "encoding": {
          "x": {"datum": 0.2909, "type": "quantitative"},
          "y": {"datum": 107, "type": "quantitative"},
          "text": {"value": "Tetramer"}
        }
      },
      {
        "transform": [{"filter": "datum.ppm > 1 && datum.thf == '12.3'"}],
        "mark": {"type": "text", "align": "center", "baseline": "alphabetic", "font": "Liberation Serif", "fontSize": 27, "color": "black"},
        "encoding": {
          "x": {"datum": 0.0648, "type": "quantitative"},
          "y": {"datum": 45, "type": "quantitative"},
          "text": {"value": "Dimer"}
        }
      }
    ]
  },
  "config": {"view": {"stroke": null}, "font": "Liberation Serif", "facet": {"spacing": 0}}
}
